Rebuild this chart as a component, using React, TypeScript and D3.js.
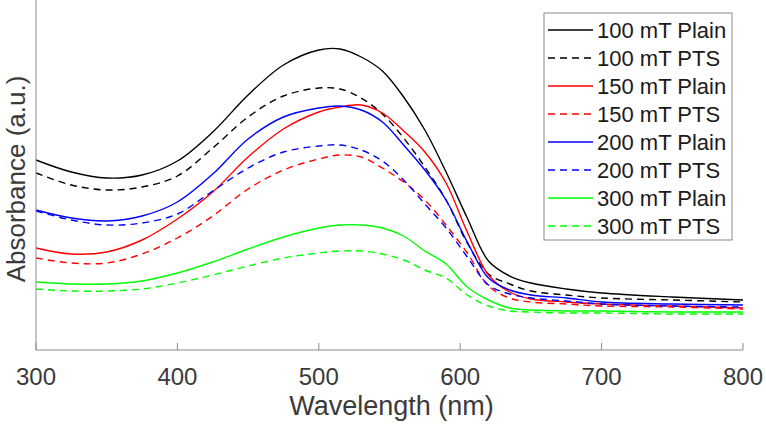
import React from "react";
import * as d3 from "d3";

const wavelengths = [300, 325, 350, 375, 400, 425, 450, 475, 500, 515, 530, 545, 560, 575, 590, 605, 620, 635, 650, 675, 700, 750, 800];

const plain100 = [1.90, 1.78, 1.72, 1.75, 1.89, 2.18, 2.55, 2.85, 3.00, 3.01, 2.93, 2.79, 2.53, 2.20, 1.78, 1.32, 0.89, 0.74, 0.67, 0.61, 0.57, 0.53, 0.50];
const pts100 = [1.77, 1.65, 1.60, 1.63, 1.74, 2.02, 2.33, 2.54, 2.62, 2.61, 2.52, 2.36, 2.12, 1.83, 1.50, 1.07, 0.76, 0.66, 0.59, 0.55, 0.52, 0.50, 0.48];
const plain150 = [1.02, 0.96, 0.98, 1.10, 1.31, 1.58, 1.93, 2.21, 2.38, 2.43, 2.45, 2.37, 2.19, 1.98, 1.67, 1.18, 0.75, 0.58, 0.51, 0.48, 0.46, 0.44, 0.42];
const pts150 = [0.92, 0.87, 0.87, 0.96, 1.12, 1.34, 1.61, 1.80, 1.91, 1.95, 1.93, 1.82, 1.68, 1.50, 1.25, 0.97, 0.64, 0.52, 0.48, 0.46, 0.44, 0.43, 0.41];
const plain200 = [1.40, 1.32, 1.29, 1.34, 1.48, 1.76, 2.11, 2.33, 2.42, 2.44, 2.40, 2.28, 2.05, 1.80, 1.50, 1.08, 0.72, 0.60, 0.55, 0.52, 0.48, 0.46, 0.45];
const pts200 = [1.39, 1.30, 1.25, 1.27, 1.36, 1.59, 1.82, 1.98, 2.04, 2.05, 2.00, 1.89, 1.70, 1.46, 1.22, 0.93, 0.65, 0.56, 0.52, 0.49, 0.46, 0.44, 0.43];
const plain300 = [0.68, 0.66, 0.66, 0.69, 0.77, 0.88, 1.01, 1.13, 1.22, 1.25, 1.25, 1.22, 1.14, 0.99, 0.86, 0.63, 0.50, 0.42, 0.40, 0.39, 0.39, 0.38, 0.38];
const pts300 = [0.61, 0.59, 0.59, 0.61, 0.67, 0.75, 0.84, 0.92, 0.97, 0.99, 0.99, 0.96, 0.90, 0.80, 0.72, 0.55, 0.44, 0.39, 0.38, 0.37, 0.37, 0.36, 0.36];

const seriesNames = ["100 mT Plain", "100 mT PTS", "150 mT Plain", "150 mT PTS", "200 mT Plain", "200 mT PTS", "300 mT Plain", "300 mT PTS"];
const seriesValues = [plain100, pts100, plain150, pts150, plain200, pts200, plain300, pts300];
const seriesColors = ["#000000", "#000000", "#ff0000", "#ff0000", "#0000ff", "#0000ff", "#00ff00", "#00ff00"];
const seriesDashed = [false, true, false, true, false, true, false, true];

const xTicks = [300, 400, 500, 600, 700, 800];

const W = 766;
const H = 426;
const left = 36;
const right = 743;
const top = 0;
const bottom = 350;
const FONT = "'Liberation Sans', Arial, Helvetica, sans-serif";

export default function App() {
  const x = d3.scaleLinear().domain([300, 800]).range([left, right]);
  const y = d3.scaleLinear().domain([0, 3.5]).range([bottom, top]);
  const line = d3
    .line<[number, number]>()
    .x((d) => x(d[0]))
    .y((d) => y(d[1]))
    .curve(d3.curveCatmullRom.alpha(0.5));

  const legX = 544;
  const legY = 13;
  const legW = 188;
  const legH = 227;
  const rowH = 28;

  return (
    <svg width={W} height={H} style={{ position: "absolute", left: 0, top: 0, background: "#fff" }}>
      <rect x={0} y={0} width={W} height={H} fill="#fff" />
      {seriesValues.map((vals, i) => (
        <path
          key={seriesNames[i]}
          d={line(wavelengths.map((w, j) => [w, vals[j]] as [number, number])) || ""}
          fill="none"
          stroke={seriesColors[i]}
          strokeWidth={1.4}
          strokeDasharray={seriesDashed[i] ? "7,5" : undefined}
        />
      ))}
      {/* axes */}
      <line x1={left} y1={top} x2={left} y2={bottom} stroke="#8a8a8a" strokeWidth={1} />
      <line x1={left} y1={bottom} x2={right} y2={bottom} stroke="#8a8a8a" strokeWidth={1} />
      {xTicks.map((t) => (
        <g key={t}>
          <line x1={x(t)} y1={bottom} x2={x(t)} y2={bottom - 7} stroke="#8a8a8a" strokeWidth={1} />
          <text x={x(t)} y={385} textAnchor="middle" fontFamily={FONT} fontSize={24} fill="#3a3a3a">
            {t}
          </text>
        </g>
      ))}
      <text x={(left + right) / 2 + 2} y={415} textAnchor="middle" fontFamily={FONT} fontSize={27} fill="#3a3a3a">
        Wavelength (nm)
      </text>
      <text
        transform={`translate(25, ${179}) rotate(-90)`}
        textAnchor="middle"
        fontFamily={FONT}
        fontSize={26}
        fill="#3a3a3a"
      >
        Absorbance (a.u.)
      </text>
      {/* legend */}
      <rect x={legX} y={legY} width={legW} height={legH} fill="#fff" stroke="#8a8a8a" strokeWidth={1} />
      {seriesNames.map((name, i) => {
        const cy = 30 + i * rowH;
        return (
          <g key={name}>
            <line
              x1={548}
              x2={593}
              y1={cy}
              y2={cy}
              stroke={seriesColors[i]}
              strokeWidth={1.4}
              strokeDasharray={seriesDashed[i] ? "7,5" : undefined}
            />
            <text x={597} y={cy + 7.5} fontFamily={FONT} fontSize={22} fill="#1a1a1a">
              {name}
            </text>
          </g>
        );
      })}
    </svg>
  );
}
